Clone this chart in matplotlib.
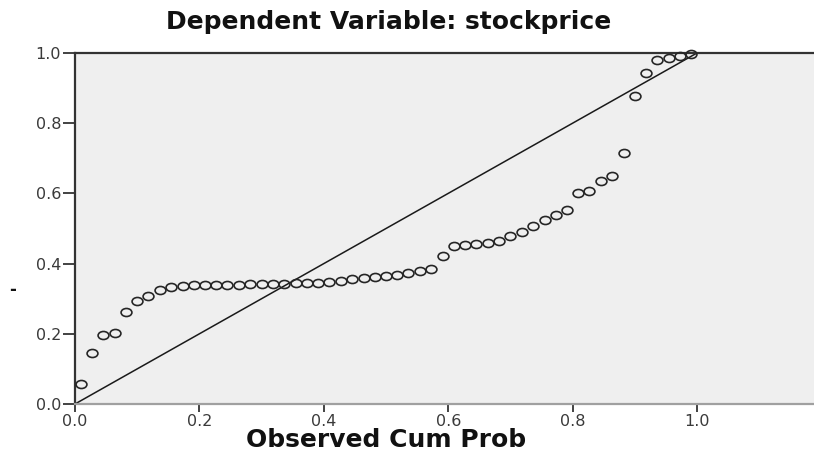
import matplotlib
matplotlib.use("Agg")
import matplotlib.pyplot as plt
from matplotlib.path import Path
from matplotlib.transforms import Affine2D

# Observed cumulative probability (x) and expected cumulative probability (y)
observed_cum_prob = [
    0.009, 0.027, 0.045, 0.064, 0.082, 0.100, 0.118, 0.136, 0.155, 0.173,
    0.191, 0.209, 0.227, 0.245, 0.264, 0.282, 0.300, 0.318, 0.336, 0.355,
    0.373, 0.391, 0.409, 0.427, 0.445, 0.464, 0.482, 0.500, 0.518, 0.536,
    0.555, 0.573, 0.591, 0.609, 0.627, 0.645, 0.664, 0.682, 0.700, 0.718,
    0.736, 0.755, 0.773, 0.791, 0.809, 0.827, 0.845, 0.864, 0.882, 0.900,
    0.918, 0.936, 0.955, 0.973, 0.991,
]
expected_cum_prob = [
    0.057, 0.144, 0.197, 0.203, 0.261, 0.293, 0.309, 0.325, 0.334, 0.337,
    0.338, 0.339, 0.339, 0.340, 0.340, 0.341, 0.341, 0.342, 0.343, 0.345,
    0.346, 0.346, 0.347, 0.350, 0.355, 0.358, 0.362, 0.365, 0.367, 0.373,
    0.379, 0.385, 0.421, 0.451, 0.453, 0.455, 0.458, 0.464, 0.479, 0.491,
    0.507, 0.525, 0.538, 0.554, 0.600, 0.608, 0.634, 0.650, 0.715, 0.877,
    0.944, 0.980, 0.987, 0.992, 0.997,
]
ref_line = [0.0, 1.0]
tick_values = [0.0, 0.2, 0.4, 0.6, 0.8, 1.0]
tick_labels = ["0.0", "0.2", "0.4", "0.6", "0.8", "1.0"]

title_text = "Dependent Variable: stockprice"
xlabel_text = "Observed Cum Prob"

W, H = 814, 459
fig = plt.figure(figsize=(W / 100, H / 100), dpi=100)
fig.patch.set_facecolor("white")

left, right, bottom, top = 75, 814, 404, 53
ax = fig.add_axes([left / W, 1 - bottom / H, (right - left) / W, (bottom - top) / H])
ax.set_facecolor("#efefef")
ax.set_xlim(0, (right - left) / 622)
ax.set_ylim(0, 1.0)

# stretched (elliptical) open circle marker
ellipse = Path.unit_circle().transformed(Affine2D().scale(1.35, 1.0))

ax.plot(ref_line, ref_line, color="#1a1a1a", lw=1.1, zorder=2)
ax.plot(observed_cum_prob, expected_cum_prob, linestyle="none", marker=ellipse,
        markersize=7.8, markerfacecolor="none", markeredgecolor="#262626",
        markeredgewidth=1.2, zorder=3, clip_on=False)

for side in ["left", "top"]:
    ax.spines[side].set_color("#333333")
    ax.spines[side].set_linewidth(1.6)
ax.spines["bottom"].set_color("#a0a0a0")
ax.spines["bottom"].set_linewidth(1.6)
ax.spines["right"].set_visible(False)

ax.set_xticks(tick_values)
ax.set_xticklabels(tick_labels)
ax.set_yticks(tick_values)
ax.set_yticklabels(tick_labels)
ax.tick_params(axis="x", length=6, width=1.2, color="#222222", pad=1,
               labelsize=11.5, labelcolor="#3a3a3a")
ax.tick_params(axis="y", length=9, width=1.2, color="#222222", pad=1,
               labelsize=11.5, labelcolor="#3a3a3a")
for lab in ax.get_xticklabels() + ax.get_yticklabels():
    lab.set_family(["DejaVu Sans"])

fig.text(389 / W, 1 - 22 / H, title_text, ha="center", va="center",
         fontsize=18, fontweight="bold", family=["DejaVu Sans"], color="#111111")
fig.text(386 / W, 1 - 440 / H, xlabel_text, ha="center", va="center",
         fontsize=18, fontweight="bold", family=["DejaVu Sans"], color="#111111")
fig.text(13 / W, 1 - 290 / H, "-", ha="center", va="center",
         fontsize=12, fontweight="bold", family=["DejaVu Sans"], color="#111111")

fig.savefig("out.png", dpi=100)
